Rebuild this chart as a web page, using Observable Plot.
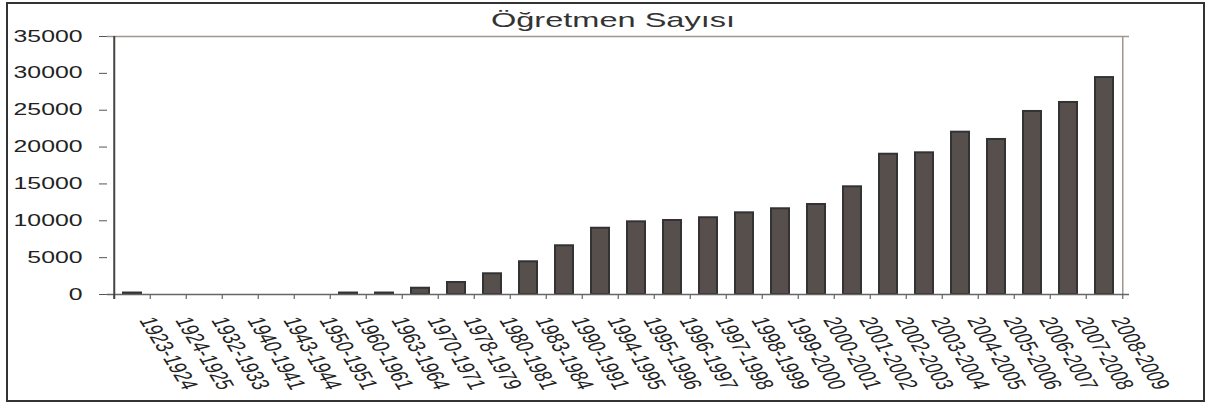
<!DOCTYPE html>
<html>
<head>
<meta charset="utf-8">
<script src="https://cdn.jsdelivr.net/npm/d3@7"></script>
<script src="https://cdn.jsdelivr.net/npm/@observablehq/plot@0.6"></script>
<style>
  body { margin: 0; background: #fff; font-family: "Liberation Sans", Arial, sans-serif; }
  #wrap { position: relative; width: 1210px; height: 407px; overflow: hidden; background: #fff; }
  #frame { position: absolute; left: 6px; top: 2px; width: 1195px; height: 396px; border: 2.5px solid #333; }
  #title { position: absolute; left: 613px; top: 9px; font-size: 21px; line-height: 21px; color: #333;
           white-space: nowrap; transform: translateX(-50%) scaleX(1.55); }
  #chart { position: absolute; left: 0; top: 0; }
</style>
</head>
<body>
<div id="wrap">
  <div id="frame"></div>
  <div id="chart"></div>
  <div id="title">Öğretmen Sayısı</div>
</div>
<script>
// Data
const years = ["1923-1924","1924-1925","1932-1933","1940-1941","1943-1944","1950-1951","1960-1961",
  "1963-1964","1970-1971","1978-1979","1980-1981","1983-1984","1990-1991","1994-1995","1995-1996",
  "1996-1997","1997-1998","1998-1999","1999-2000","2000-2001","2001-2002","2002-2003","2003-2004",
  "2004-2005","2005-2006","2006-2007","2007-2008","2008-2009"];
const teachers = [200, null, null, null, null, null, 200, 200, 850, 1630, 2810, 4440, 6610, 8990, 9860,
  10040, 10410, 11080, 11630, 12210, 14610, 19030, 19220, 22020, 21030, 24830, 26050, 29430];
const yTicks = [0, 5000, 10000, 15000, 20000, 25000, 30000, 35000];

const data = years.map((k, i) => ({k, v: teachers[i]}));
const STRETCH = 1.55;
const ANGLE = 68;
const W = 1210, H = 407, ML = 107, MR = 81, MT = 36, MB = 113;
const step = (W - ML - MR) / years.length;
const tickLen = 35000 * 5 / (H - MT - MB);

const chart = Plot.plot({
  width: W, height: H,
  marginLeft: ML, marginRight: MR, marginTop: MT, marginBottom: MB,
  style: {background: "transparent", color: "#333", fontFamily: "Liberation Sans, Arial, sans-serif"},
  x: {type: "band", domain: years, paddingInner: 0.5, paddingOuter: 0.25, axis: null},
  y: {domain: [0, 35000], label: null, axis: null},
  marks: [
    // frame top & right
    Plot.ruleY([35000], {stroke: "#a0958f", strokeWidth: 1.5}),
    Plot.ruleX([years[years.length - 1]], {y1: 0, y2: 35000, dx: step / 2, stroke: "#a0958f", strokeWidth: 1.5}),
    // bars
    Plot.barY(data.filter(d => d.v != null), {x: "k", y: "v", fill: "#574f4b", stroke: "#333235", strokeWidth: 2}),
    // bottom axis line and boundary ticks
    Plot.ruleY([0], {stroke: "#666", strokeWidth: 1.5}),
    Plot.ruleX(years, {y1: 0, y2: -tickLen, dx: -step / 2, stroke: "#666", strokeWidth: 1.2}),
    Plot.ruleX([years[years.length - 1]], {y1: 0, y2: -tickLen, dx: step / 2, stroke: "#666", strokeWidth: 1.2}),
    // left axis line
    Plot.ruleX([years[0]], {y1: -tickLen, y2: 35000, dx: -step / 2, stroke: "#444", strokeWidth: 2}),
    // y axis
    Plot.axisY({ticks: yTicks, tickSize: 8, tickPadding: 17, fontSize: 16, tickFormat: d => String(d),
                label: null, stroke: "#555", fill: "#222"}),
    // x labels (rotation added below together with the horizontal stretch)
    Plot.text(years, {x: d => d, frameAnchor: "bottom", text: d => d, textAnchor: "start",
                      lineAnchor: "top", fontSize: 16, dx: 22.5, dy: 21, fill: "#222"})
  ]
});
document.getElementById("chart").appendChild(chart);

// emulate the horizontally stretched lettering of the original image
const yearSet = new Set(years);
const tickSet = new Set(yTicks.map(String));
d3.select(chart).selectAll("text").each(function () {
  const t = this.textContent;
  const tr = this.getAttribute("transform") || "";
  if (yearSet.has(t)) this.setAttribute("transform", tr + ` scale(${STRETCH},1) rotate(${ANGLE})`);
  else if (tickSet.has(t)) this.setAttribute("transform", tr + ` scale(${STRETCH},1)`);
});
</script>
</body>
</html>
